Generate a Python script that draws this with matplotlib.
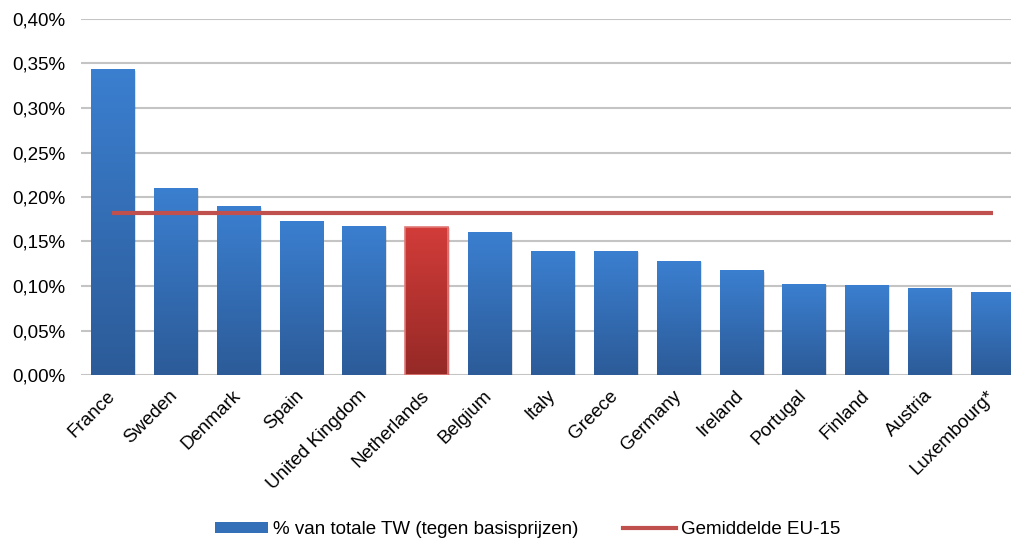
import matplotlib.pyplot as plt
from matplotlib.colors import LinearSegmentedColormap
from matplotlib.patches import Patch
from matplotlib.lines import Line2D
import numpy as np

countries = ['France', 'Sweden', 'Denmark', 'Spain', 'United Kingdom', 'Netherlands',
             'Belgium', 'Italy', 'Greece', 'Germany', 'Ireland', 'Portugal',
             'Finland', 'Austria', 'Luxembourg*']
shares = [0.343, 0.210, 0.189, 0.173, 0.167, 0.166, 0.160, 0.139, 0.139,
          0.128, 0.117, 0.102, 0.101, 0.097, 0.093]
eu15_avg = 0.182
highlight = 'Netherlands'

plt.rcParams['font.family'] = ['Liberation Sans', 'DejaVu Sans']

blue_cmap = LinearSegmentedColormap.from_list('b', ['#2c5b98', '#3b7fd0'])
red_cmap = LinearSegmentedColormap.from_list('r', ['#952926', '#d23c39'])

fig = plt.figure(figsize=(10.11, 5.39), dpi=100)
ax = fig.add_axes([81 / 1011, 164 / 539, 1 - 81 / 1011, (375 - 19) / 539])

x = np.arange(len(countries))
bars = ax.bar(x, shares, width=0.685, color='none', zorder=3)

grad = np.linspace(0, 1, 256).reshape(-1, 1)
for b, name in zip(bars, countries):
    bx, bw, bh = b.get_x(), b.get_width(), b.get_height()
    cmap = red_cmap if name == highlight else blue_cmap
    # soft shadow
    ax.bar(bx + bw / 2 + 0.03, bh, width=bw, bottom=-0.001, color='#000000',
           alpha=0.12, zorder=2, linewidth=0)
    ax.imshow(grad, extent=[bx, bx + bw, 0, bh], origin='lower', cmap=cmap,
              aspect='auto', zorder=3)
    if name == highlight:
        ax.bar(b.get_x() + bw / 2, bh, width=bw, color='none',
               edgecolor='#e07a78', linewidth=1.2, zorder=4)

ax.plot(x, [eu15_avg] * len(x), color='#c0504d', linewidth=3, zorder=5,
        solid_capstyle='butt')

ax.set_xlim(-0.5, 14.5 - 13 / 62.86)
ax.set_ylim(0, 0.40)
ax.set_yticks(np.arange(0, 0.401, 0.05))
ax.set_yticklabels([f'{v:.2f}%'.replace('.', ',') for v in np.arange(0, 0.401, 0.05)],
                   fontsize=13.5)
ax.set_xticks(x)
ax.set_xticklabels(countries, rotation=45, ha='right', va='center',
                   rotation_mode='anchor', fontsize=13.5)
ax.tick_params(axis='x', length=0, pad=13)
ax.tick_params(axis='y', length=0, pad=11.5)
ax.grid(axis='y', color='#c4c4c4', linewidth=1.5, zorder=0)
ax.set_axisbelow(True)
for s in ax.spines.values():
    s.set_visible(False)

handles = [Patch(facecolor='#3470b8', edgecolor='none'),
           Line2D([0], [0], color='#c0504d', linewidth=3)]
fig.legend(handles, ['% van totale TW (tegen basisprijzen)', 'Gemiddelde EU-15'],
           loc='center', bbox_to_anchor=(0.522, 0.017), ncol=2, frameon=False,
           fontsize=13.5, handlelength=2.83, handleheight=0.55, handletextpad=0.27,
           columnspacing=2.35, borderpad=0)

fig.savefig('out.png', dpi=100)
